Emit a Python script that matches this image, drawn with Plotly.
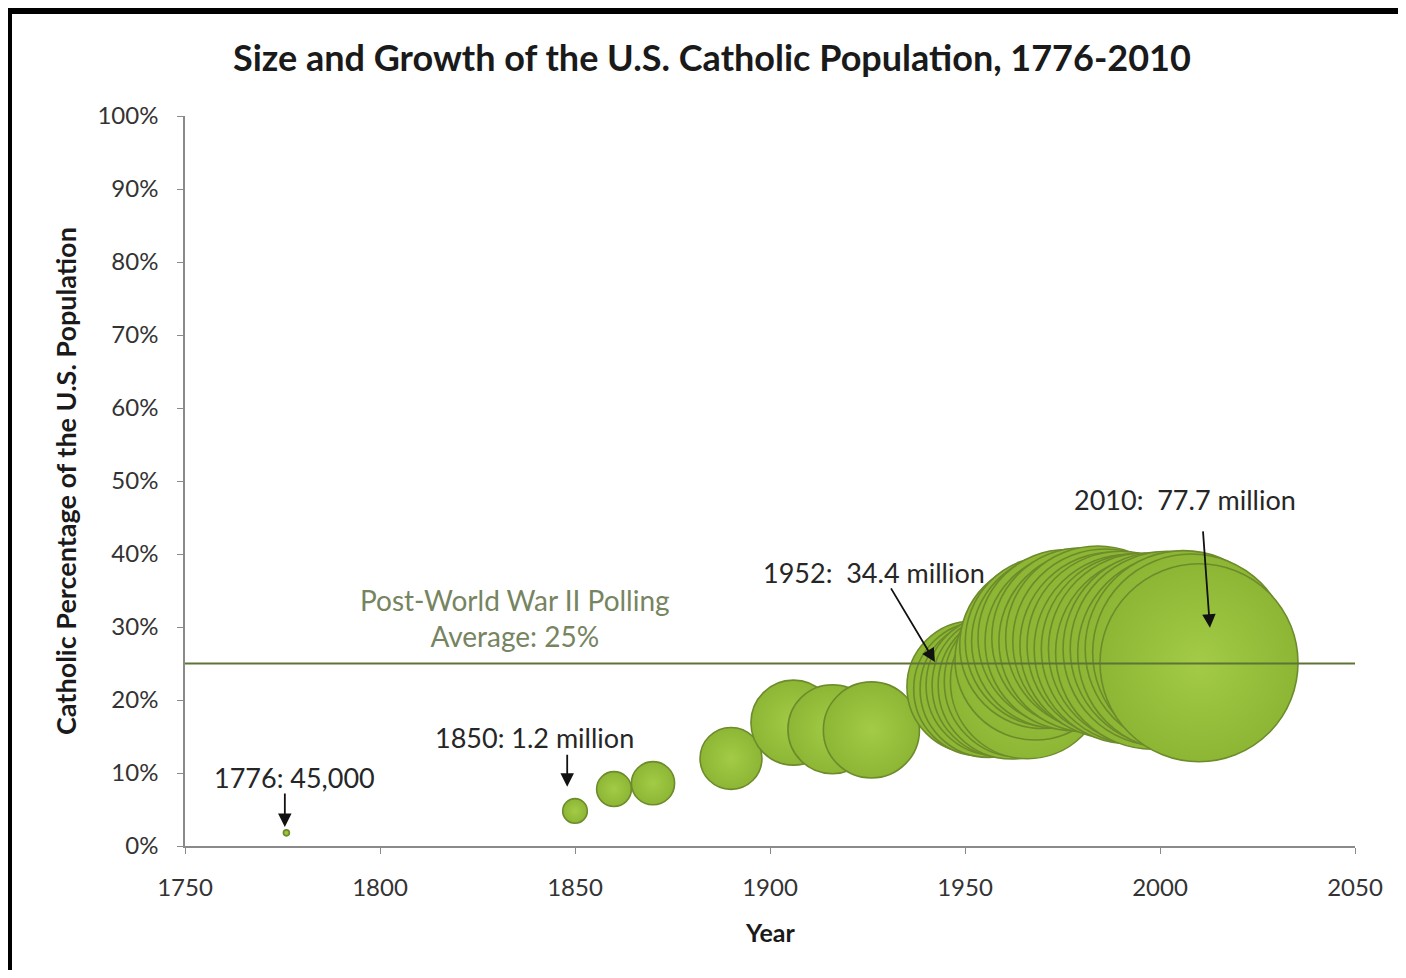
import plotly.graph_objects as go

# ---- data ----
years = [1776, 1850, 1860, 1870, 1890, 1906, 1916, 1926,
         1952, 1954, 1956, 1958, 1960, 1962, 1964, 1966, 1968, 1970,
         1972, 1974, 1976, 1978, 1980, 1982, 1984, 1986, 1988, 1990,
         1992, 1994, 1996, 1998, 2000, 2002, 2004, 2006, 2008, 2010]
catholic_pct = [1.8, 4.8, 7.8, 8.6, 12.0, 16.9, 16.0, 15.9,
                21.8, 21.5, 21.5, 22.0, 22.0, 22.0, 22.5, 22.5, 25.5, 27.5,
                28.0, 28.0, 28.5, 28.0, 28.5, 28.0, 28.5, 28.0, 27.5, 27.5,
                27.0, 27.0, 27.0, 26.5, 27.0, 27.0, 26.5, 27.0, 26.5, 25.1]
catholic_pop_millions = [0.045, 1.2, 2.4, 3.7, 7.6, 14.3, 15.7, 18.3,
                         34.4, 35.5, 37.0, 39.0, 41.0, 43.0, 45.0, 47.0, 51.0, 55.0,
                         58.0, 60.0, 62.0, 63.0, 64.5, 65.5, 67.0, 68.0, 69.0, 70.0,
                         71.0, 72.0, 73.0, 74.0, 74.5, 75.5, 76.0, 76.5, 77.0, 77.7]
polling_average = 25
x_ticks = [1750, 1800, 1850, 1900, 1950, 2000, 2050]
y_ticks = [0, 10, 20, 30, 40, 50, 60, 70, 80, 90, 100]
y_tick_labels = ["0%", "10%", "20%", "30%", "40%", "50%", "60%", "70%", "80%", "90%", "100%"]

callouts = [  # (index into the series, label)
    (0, "1776: 45,000"),
    (1, "1850: 1.2 million"),
    (8, "1952:  34.4 million"),
    (37, "2010:  77.7 million"),
]

MAX_DIAM = 198
sizeref = 2.0 * max(catholic_pop_millions) / MAX_DIAM ** 2

fig = go.Figure()
fig.add_trace(go.Scatter(
    x=years, y=catholic_pct, mode="markers",
    marker=dict(size=catholic_pop_millions, sizemode="area", sizeref=sizeref,
                sizemin=3, color="#8cb634", opacity=1,
                gradient=dict(type="radial", color="#a3cb47"),
                line=dict(color="#6d8b2b", width=1.6)),
    hoverinfo="skip", showlegend=False))

fig.add_trace(go.Scatter(
    x=[1750, 2051.5], y=[polling_average, polling_average], mode="lines",
    line=dict(color="#5f7336", width=2), hoverinfo="skip", showlegend=False))

FONT = "Lato, 'Open Sans', sans-serif"
TXT = "#262626"

ann = []
label_pos = {0: (1778.0, 9.45), 1: (1839.7, 14.8), 8: (1926.7, 37.5), 37: (2006.4, 47.4)}
arrow_geo = {0: ((1775.6, 7.4), (1775.6, 2.6)),
             1: ((1848.0, 12.7), (1848.0, 8.1)),
             8: ((1930.8, 35.5), (1942.3, 25.2)),
             37: ((2011.0, 43.3), (2012.8, 29.9))}
for idx, text in callouts:
    lx, ly = label_pos[idx]
    ann.append(dict(x=lx, y=ly, xref="x", yref="y", text=text, showarrow=False,
                    xanchor="center", yanchor="middle",
                    font=dict(family=FONT, size=27, color=TXT)))
    (tx, ty), (hx, hy) = arrow_geo[idx]
    ann.append(dict(x=hx, y=hy, xref="x", yref="y", ax=tx, ay=ty, axref="x", ayref="y",
                    text="", showarrow=True, arrowhead=2, arrowsize=1.5, arrowwidth=1.8,
                    arrowcolor="#111111", standoff=0, startstandoff=0))

ann.append(dict(x=1834.6, y=31.2, xref="x", yref="y",
                text="Post-World War II Polling<br>Average: 25%", showarrow=False,
                align="center", xanchor="center", yanchor="middle",
                font=dict(family=FONT, size=28, color="#76845f")))

# helpers: page pixel -> paper coordinate (plot area spans page x 185..1355, y 116..846)
def px_x(px):
    return (px - 185) / 1170.0

def px_y(py):
    return (846 - py) / 730.0

ann.append(dict(x=px_x(712), y=px_y(57), xref="paper", yref="paper",
                xanchor="center", yanchor="middle",
                text="<b>Size and Growth of the U.S. Catholic Population, 1776-2010</b>",
                showarrow=False, font=dict(family=FONT, size=36, color="#1a1a1a")))
ann.append(dict(x=px_x(65), y=px_y(481), xref="paper", yref="paper", textangle=-90,
                xanchor="center", yanchor="middle",
                text="<b>Catholic Percentage of the U.S. Population</b>",
                showarrow=False, font=dict(family=FONT, size=27, color="#1a1a1a")))
ann.append(dict(x=0.5, y=px_y(932), xref="paper", yref="paper",
                xanchor="center", yanchor="middle",
                text="<b>Year</b>", showarrow=False,
                font=dict(family=FONT, size=25, color="#1a1a1a")))

shapes = [
    dict(type="rect", xref="paper", yref="paper", x0=px_x(8), x1=px_x(1403),
         y0=px_y(14), y1=px_y(8), fillcolor="#000000", line=dict(width=0)),
    dict(type="rect", xref="paper", yref="paper", x0=px_x(8), x1=px_x(12),
         y0=px_y(970), y1=px_y(8), fillcolor="#000000", line=dict(width=0)),
]

# the page body has an 8px margin: figure occupies page x 8..1398, y 8..970
fig.update_layout(
    width=1390, height=962,
    margin=dict(l=177, r=43, t=108, b=124),
    paper_bgcolor="white", plot_bgcolor="white",
    annotations=ann, shapes=shapes,
    font=dict(family=FONT, color=TXT),
    xaxis=dict(range=[1750, 2050], tickvals=x_ticks, ticks="outside", ticklen=6,
               tickcolor="#8a8a8a", showline=True, linecolor="#8a8a8a", linewidth=1.5,
               showgrid=False, zeroline=False, ticklabelstandoff=13,
               tickfont=dict(family=FONT, size=24, color="#333333")),
    yaxis=dict(range=[0, 100], tickvals=y_ticks, ticktext=y_tick_labels, ticks="outside",
               ticklen=6, tickcolor="#8a8a8a", showline=True, linecolor="#8a8a8a",
               linewidth=1.5, showgrid=False, zeroline=False, ticklabelstandoff=14,
               tickfont=dict(family=FONT, size=24, color="#333333")),
)

fig.write_html("out.html")
